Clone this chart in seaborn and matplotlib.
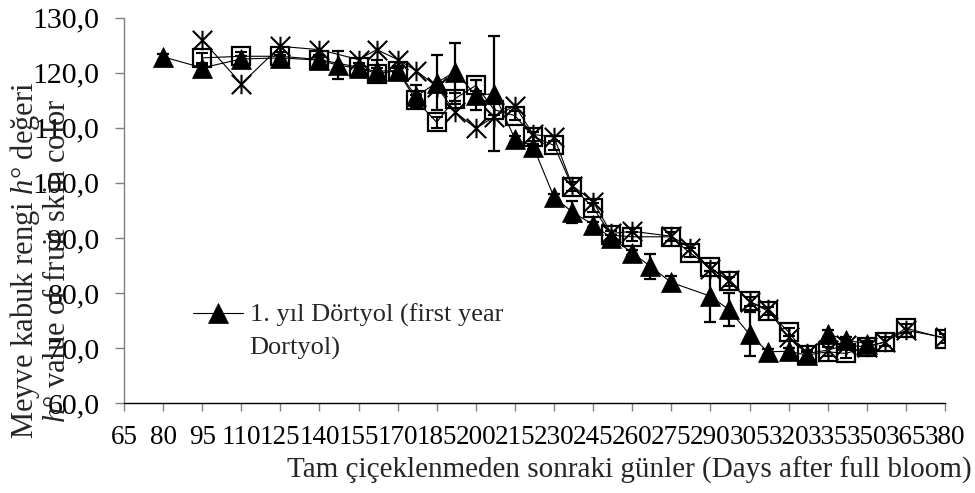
import matplotlib
matplotlib.use("Agg")
import matplotlib.pyplot as plt
from matplotlib.path import Path
import seaborn as sns

# First year, Dörtyol (filled triangles, with standard errors)
days_a = [80, 95, 110, 125, 140, 147, 155, 162, 170, 177, 185, 192, 200, 207,
          215, 222, 230, 237, 245, 252, 260, 267, 275, 290, 297, 305, 312, 320,
          327, 335, 342, 350]
hue_a = [122.9, 120.9, 122.5, 122.7, 122.3, 121.4, 120.8, 120.3, 120.4, 115.7,
         118.2, 120.2, 115.9, 116.2, 108.0, 106.6, 97.4, 94.7, 92.4, 90.0,
         87.3, 84.8, 81.9, 79.4, 77.0, 72.5, 69.3, 69.4, 68.7, 72.6, 71.4, 70.8]
err_a = [0.5, 0.6, 0.5, 0.5, 0.5, 2.6, 0.5, 2.0, 0.5, 2.0, 5.0, 5.3, 2.7, 10.5,
         0.5, 0.5, 0.5, 2.0, 0.5, 0.5, 0.5, 2.2, 1.2, 4.6, 3.0, 4.0, 0.5, 0.5,
         0.5, 0.6, 0.6, 0.5]

# Second series (open squares, with standard errors)
days_b = [95, 110, 125, 140, 155, 162, 170, 177, 185, 192, 200, 207, 215, 222,
          230, 237, 245, 252, 260, 275, 282, 290, 297, 305, 312, 320, 327, 335,
          342, 350, 357, 365, 380]
hue_b = [122.7, 123.0, 123.0, 122.4, 121.0, 119.8, 120.4, 115.0, 111.0, 115.3,
         117.7, 113.3, 112.2, 108.4, 106.8, 99.3, 95.5, 90.5, 90.2, 90.2, 87.3,
         84.7, 82.1, 78.5, 76.7, 72.9, 68.7, 69.3, 69.0, 70.2, 71.1, 73.6, 71.7]
err_b = [0.9, 0.8, 0.8, 0.8, 0.8, 1.0, 0.8, 1.0, 1.0, 1.0, 1.0, 1.0, 0.8, 0.8,
         0.8, 0.8, 0.8, 0.8, 0.8, 0.8, 0.8, 0.8, 0.8, 0.8, 0.8, 0.8, 0.8, 0.8,
         0.8, 0.8, 0.8, 0.8, 0.8]

# Third series (asterisks)
days_c = days_b
hue_c = [126.0, 118.0, 124.8, 124.2, 122.4, 124.2, 122.4, 120.4, 117.5, 112.9,
         109.9, 112.0, 114.0, 108.8, 108.3, 99.5, 96.6, 90.8, 91.2, 90.3, 88.2,
         84.4, 82.3, 78.4, 77.0, 71.9, 69.0, 69.6, 70.5, 70.2, 71.1, 73.2, 71.9]

legend_label = "1. yıl Dörtyol (first year\nDortyol)"
x_ticks = list(range(65, 381, 15))
x_tick_labels = [str(v) for v in x_ticks]
y_ticks = [60, 70, 80, 90, 100, 110, 120, 130]
y_tick_labels = ["60,0", "70,0", "80,0", "90,0", "100,0", "110,0", "120,0", "130,0"]
x_label = "Tam çiçeklenmeden sonraki günler (Days after full bloom)"
y_label = "Meyve kabuk rengi $h$° değeri\n$h$° value of fruit skin color"

sns.set_theme(style="white")
plt.rcParams["font.family"] = ["Liberation Serif", "DejaVu Serif"]
plt.rcParams["mathtext.fontset"] = "custom"
plt.rcParams["mathtext.rm"] = "Liberation Serif"
plt.rcParams["mathtext.it"] = "Liberation Serif:italic"

fig = plt.figure(figsize=(9.75, 4.93), dpi=100)
ax = fig.add_axes([0.1272, 0.1826, 0.9692 - 0.1272, 0.964 - 0.1826])

# asterisk marker: an X crossed by a vertical stroke
asterisk = Path(
    [(-1, -1), (1, 1), (-1, 1), (1, -1), (0, -1), (0, 1)],
    [Path.MOVETO, Path.LINETO, Path.MOVETO, Path.LINETO, Path.MOVETO, Path.LINETO],
)

line_kw = dict(color="black", linewidth=0.8, sort=False)

# squares
sns.lineplot(x=days_b, y=hue_b, ax=ax, marker="s", markersize=12.5,
             markerfacecolor="none", markeredgecolor="black",
             markeredgewidth=1.6, zorder=3, **line_kw)
ax.errorbar(days_b, hue_b, yerr=err_b, fmt="none", ecolor="black",
            elinewidth=1.5, capsize=4.3, capthick=1.5, zorder=3)

# asterisks
sns.lineplot(x=days_c, y=hue_c, ax=ax, marker=asterisk, markersize=14,
             markerfacecolor="none", markeredgecolor="black",
             markeredgewidth=1.5, zorder=4, **line_kw)

# triangles
sns.lineplot(x=days_a, y=hue_a, ax=ax, marker="^", markersize=14,
             markerfacecolor="black", markeredgecolor="black",
             markeredgewidth=0.5, zorder=6, **line_kw)
tri_line = ax.lines[-1]
ax.errorbar(days_a, hue_a, yerr=err_a, fmt="none", ecolor="black",
            elinewidth=1.6, capsize=4.3, capthick=1.6, zorder=5)

ax.set_xlim(65, 380)
ax.set_ylim(60, 130)
ax.set_xticks(x_ticks)
ax.set_xticklabels(x_tick_labels, fontsize=19.5)
ax.set_yticks(y_ticks)
ax.set_yticklabels(y_tick_labels, fontsize=21.5)

for s in ["top", "right"]:
    ax.spines[s].set_visible(False)
ax.spines["left"].set_color("#808080")
ax.spines["left"].set_linewidth(1.0)
ax.spines["bottom"].set_color("black")
ax.spines["bottom"].set_linewidth(1.0)
ax.tick_params(axis="x", direction="out", length=6, width=1.0, color="#808080",
               pad=10, bottom=True, labelcolor="black")
ax.tick_params(axis="y", direction="out", length=6.5, width=1.0, color="#808080",
               pad=11, left=True, labelcolor="black")

ax.set_xlabel(x_label, fontsize=21)
ax.xaxis.set_label_coords(0.615, -0.174)
ax.xaxis.label.set_va("center")
ax.set_ylabel(y_label, fontsize=22, linespacing=1.05)
ax.yaxis.set_label_coords(-0.102, 0.37)
ax.yaxis.label.set_va("center")

leg = ax.legend([tri_line], [legend_label], loc="center left",
                bbox_to_anchor=(0.084, 0.18), frameon=False, fontsize=19,
                handlelength=1.9, handletextpad=0.25, borderpad=0,
                borderaxespad=0, handleheight=5.2)
for t in leg.get_texts():
    t.set_linespacing(1.55)

fig.savefig("out.png", dpi=100, facecolor="white")
